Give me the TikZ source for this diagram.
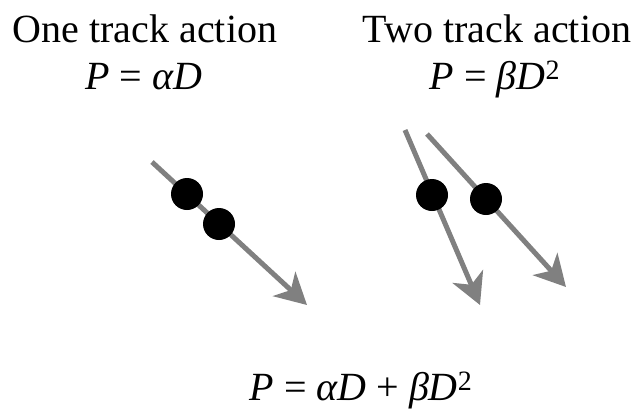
\documentclass[tikz,border=0pt]{standalone}
\usepackage{fontspec}
\setmainfont{Liberation Serif}
\usetikzlibrary{arrows.meta}
\definecolor{trackgray}{HTML}{808080}
\tikzset{
    >={Stealth[length=31pt,width=33pt,inset=9pt]},
    font={\fontsize{40pt}{48pt}\selectfont},
}

\begin{document}
\begin{tikzpicture}[x=1pt,y=-1pt]
\tikzstyle{heading} = [anchor=base, inner sep=0pt]
\tikzstyle{track} = [draw=trackgray, line width=5pt, ->]
\tikzstyle{hit} = [circle, fill=black, inner sep=0pt, minimum size=32pt]
\useasboundingbox (0,0) rectangle (639,410);

% Headings
\node[heading] (one) at (145,42) {One track action};
\node[heading] (onerate) at (144,89) {\textit{P} = \textit{αD}};
\node[heading] (two) at (497,42) {Two track action};
\node[heading] (tworate) at (495,89) {\textit{P} = \textit{βD}\textsuperscript{2}};
\node[heading] (total) at (361,400) {\textit{P} = \textit{αD} + \textit{βD}\textsuperscript{2}};

% Track ends
\coordinate (a0) at (152,162);
\coordinate (a1) at (307,305);
\coordinate (b0) at (405,130);
\coordinate (b1) at (480,305);
\coordinate (c0) at (427,134);
\coordinate (c1) at (566,287);

% Tracks
\draw[track] (a0) -- (a1);
\draw[track] (b0) -- (b1);
\draw[track] (c0) -- (c1);

% Hits
\node[hit] (ahit1) at (187,194) {};
\node[hit] (ahit2) at (219,224) {};
\node[hit] (bhit) at (432,195) {};
\node[hit] (chit) at (486,199) {};
\end{tikzpicture}
\end{document}
